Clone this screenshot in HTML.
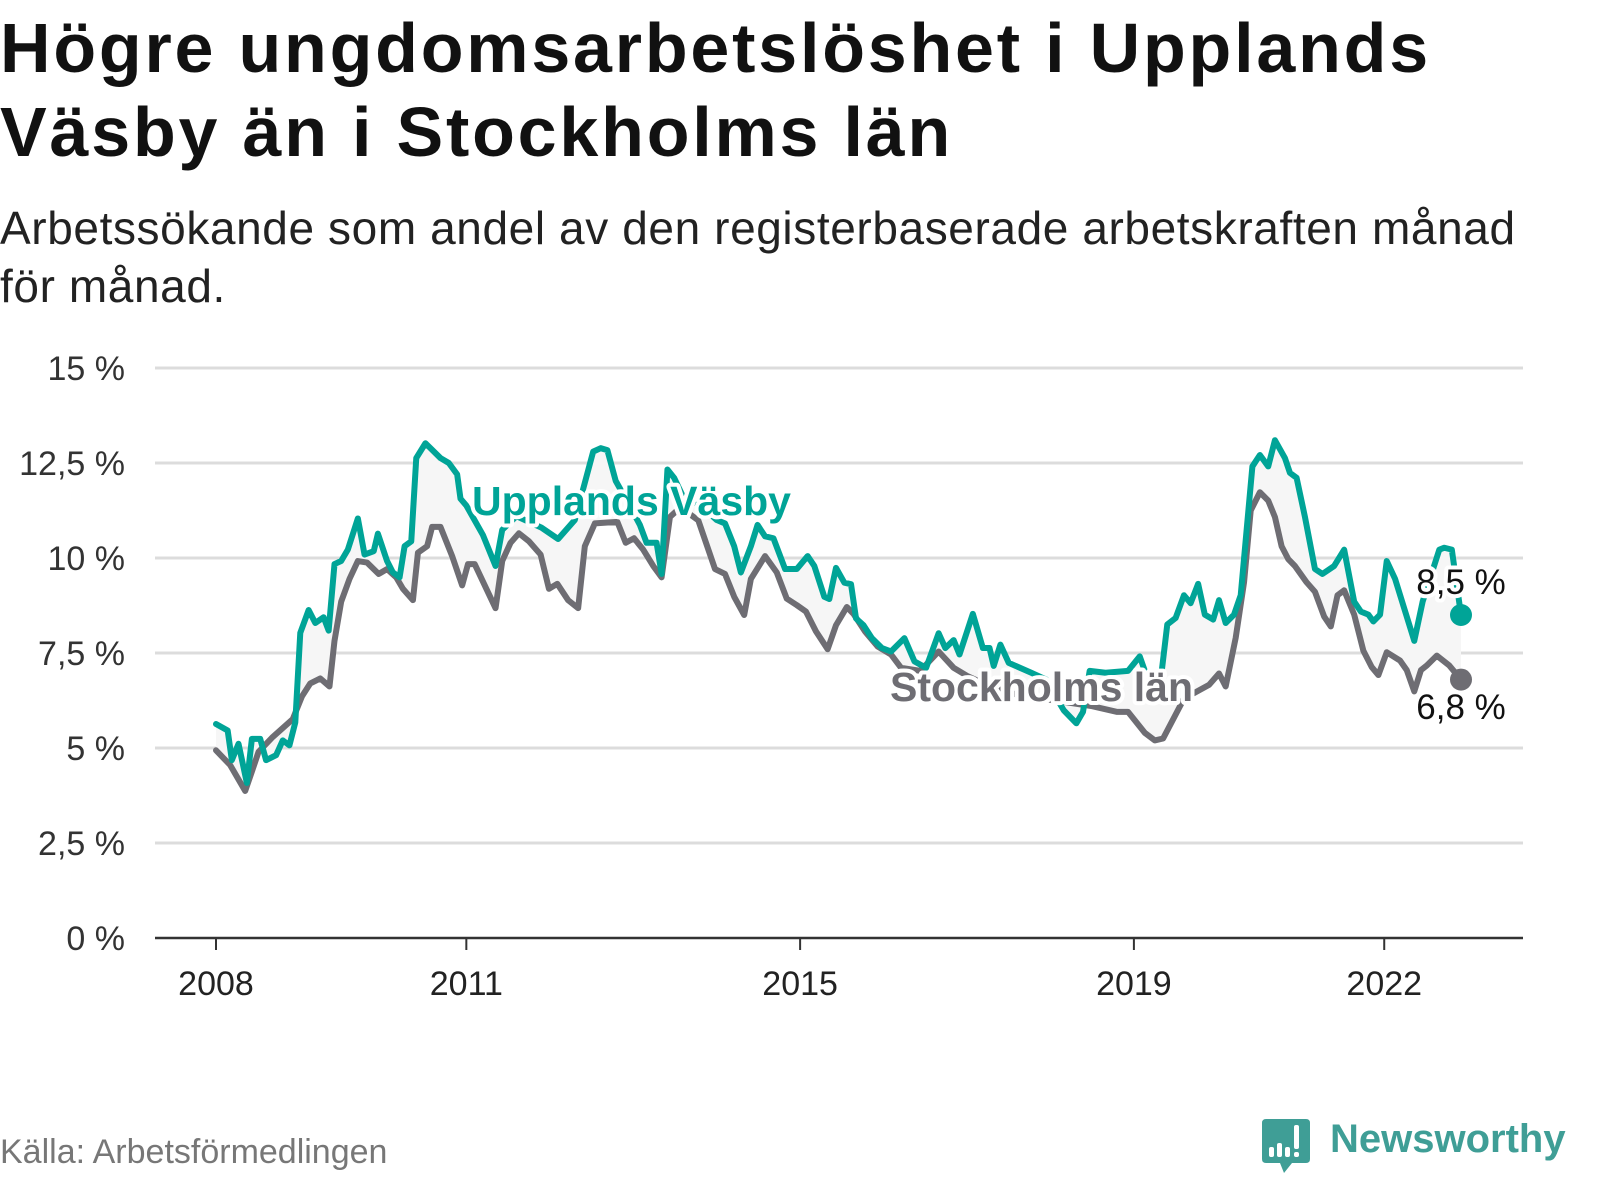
<!DOCTYPE html>
<html><head><meta charset="utf-8"><style>
html,body{margin:0;padding:0;background:#fff;}
body{width:1600px;height:1200px;overflow:hidden;position:relative;font-family:"Liberation Sans",sans-serif;}
.t{position:absolute;left:0;margin:0;color:#111;}
</style></head><body>
<h1 class="t" style="top:6px;font-size:70px;line-height:84px;font-weight:bold;letter-spacing:2.8px;">Högre ungdomsarbetslöshet i Upplands<br>Väsby än i Stockholms län</h1>
<p class="t" style="top:199px;font-size:46px;line-height:58px;color:#222;letter-spacing:0.6px;">Arbetssökande som andel av den registerbaserade arbetskraften månad<br>för månad.</p>
<svg id="chart" width="1600" height="1200" style="position:absolute;left:0;top:0" xmlns="http://www.w3.org/2000/svg"></svg>
<div style="position:absolute;left:0;top:1133px;font-size:34px;color:#777;">Källa: Arbetsförmedlingen</div>
<div style="position:absolute;left:1262px;top:1117px;width:338px;height:60px;">
<svg width="50" height="60" style="position:absolute;left:0;top:0"><path d="M4 2 H44 Q48 2 48 6 V42 Q48 46 44 46 H30 L22 56 L18 46 H4 Q0 46 0 42 V6 Q0 2 4 2Z" fill="#3f9e96"/><rect x="7" y="30" width="5" height="10" rx="2" fill="#fff"/><rect x="15" y="26" width="5" height="14" rx="2" fill="#fff"/><rect x="23" y="30" width="5" height="10" rx="2" fill="#fff"/><rect x="32" y="8" width="5" height="24" rx="2" fill="#fff"/><rect x="32" y="35" width="5" height="5" rx="2" fill="#fff"/></svg>
<span style="position:absolute;left:68px;top:0px;font-size:40px;font-weight:bold;color:#3f9e96;">Newsworthy</span>
</div>
<script>
const yTicks=[0,2.5,5,7.5,10,12.5,15];
const yTickLabels=["0 %","2,5 %","5 %","7,5 %","10 %","12,5 %","15 %"];
const xTicks=[2008,2011,2015,2019,2022];
const vasbyDates=[2008.00,2008.14,2008.19,2008.27,2008.37,2008.43,2008.53,2008.60,2008.72,2008.80,2008.88,2008.95,2009.01,2009.11,2009.19,2009.29,2009.35,2009.42,2009.50,2009.58,2009.70,2009.78,2009.89,2009.94,2010.05,2010.12,2010.20,2010.26,2010.34,2010.40,2010.51,2010.69,2010.79,2010.89,2010.93,2011.00,2011.20,2011.35,2011.43,2011.60,2011.90,2012.10,2012.30,2012.42,2012.52,2012.61,2012.69,2012.79,2012.90,2013.00,2013.08,2013.16,2013.28,2013.34,2013.41,2013.49,2013.60,2013.80,2014.00,2014.10,2014.21,2014.29,2014.41,2014.49,2014.58,2014.68,2014.82,2014.96,2015.09,2015.17,2015.29,2015.35,2015.43,2015.53,2015.61,2015.67,2015.76,2015.86,2015.98,2016.09,2016.25,2016.37,2016.51,2016.66,2016.74,2016.84,2016.91,2017.07,2017.19,2017.27,2017.32,2017.40,2017.50,2017.77,2017.95,2018.05,2018.16,2018.31,2018.39,2018.47,2018.66,2018.93,2019.07,2019.20,2019.30,2019.40,2019.50,2019.60,2019.68,2019.77,2019.85,2019.95,2020.02,2020.10,2020.20,2020.28,2020.42,2020.51,2020.61,2020.69,2020.81,2020.87,2020.95,2021.05,2021.17,2021.26,2021.40,2021.52,2021.64,2021.72,2021.81,2021.87,2021.95,2022.03,2022.13,2022.36,2022.46,2022.66,2022.72,2022.81,2022.92];
const vasbyValues=[5.63,5.46,4.68,5.11,4.08,5.24,5.24,4.68,4.81,5.20,5.07,5.67,8.03,8.63,8.29,8.44,8.09,9.84,9.92,10.22,11.04,10.09,10.18,10.64,9.92,9.62,9.49,10.31,10.44,12.63,13.02,12.63,12.50,12.20,11.56,11.38,10.6,9.79,10.74,11.1,10.8,10.5,11.0,11.98,12.80,12.89,12.84,12.03,11.6,11.2,10.87,10.40,10.40,9.58,12.33,12.11,11.6,11.4,11.0,10.91,10.31,9.62,10.31,10.87,10.57,10.52,9.71,9.71,10.05,9.79,8.98,8.92,9.74,9.35,9.31,8.41,8.23,7.89,7.63,7.54,7.89,7.28,7.11,8.02,7.63,7.84,7.46,8.53,7.63,7.63,7.16,7.72,7.24,6.98,6.8,6.4,5.99,5.65,5.95,7.03,6.98,7.03,7.41,6.6,6.4,8.25,8.42,9.02,8.81,9.32,8.51,8.38,8.89,8.29,8.51,9.02,12.41,12.71,12.41,13.10,12.63,12.24,12.11,11.08,9.71,9.58,9.79,10.22,8.85,8.59,8.51,8.33,8.51,9.92,9.45,7.82,8.85,10.22,10.27,10.22,8.5];
const lanDates=[2008.00,2008.17,2008.35,2008.43,2008.51,2008.68,2008.92,2009.03,2009.13,2009.25,2009.36,2009.42,2009.50,2009.60,2009.70,2009.81,2009.95,2010.05,2010.16,2010.24,2010.36,2010.42,2010.53,2010.59,2010.69,2010.83,2010.95,2011.02,2011.10,2011.24,2011.35,2011.43,2011.53,2011.63,2011.75,2011.89,2011.99,2012.09,2012.22,2012.34,2012.42,2012.54,2012.81,2012.91,2013.01,2013.12,2013.24,2013.34,2013.44,2013.55,2013.65,2013.78,2013.98,2014.10,2014.21,2014.33,2014.41,2014.58,2014.72,2014.84,2014.96,2015.07,2015.19,2015.33,2015.43,2015.56,2015.64,2015.78,2015.93,2016.09,2016.21,2016.44,2016.66,2016.84,2017.00,2017.30,2017.60,2017.90,2018.20,2018.50,2018.80,2018.93,2019.13,2019.25,2019.35,2019.60,2019.90,2020.02,2020.10,2020.22,2020.32,2020.40,2020.51,2020.61,2020.69,2020.77,2020.85,2020.93,2021.07,2021.17,2021.28,2021.36,2021.44,2021.52,2021.64,2021.75,2021.85,2021.93,2022.03,2022.19,2022.27,2022.36,2022.44,2022.51,2022.63,2022.78,2022.92];
const lanValues=[4.94,4.55,3.87,4.38,4.90,5.29,5.76,6.36,6.70,6.83,6.62,7.82,8.85,9.45,9.92,9.88,9.58,9.71,9.49,9.19,8.89,10.14,10.31,10.82,10.82,10.05,9.28,9.84,9.84,9.19,8.68,9.92,10.40,10.65,10.44,10.09,9.19,9.32,8.89,8.68,10.31,10.91,10.95,10.40,10.52,10.22,9.79,9.49,11.08,11.3,11.2,10.99,9.71,9.58,8.98,8.50,9.45,10.05,9.62,8.93,8.76,8.59,8.07,7.60,8.23,8.71,8.53,8.06,7.67,7.46,7.11,7.03,7.54,7.11,6.9,6.6,6.4,6.3,6.2,6.1,5.95,5.95,5.4,5.2,5.25,6.3,6.66,6.96,6.62,7.90,9.36,11.25,11.73,11.51,11.08,10.31,9.97,9.79,9.36,9.11,8.46,8.20,9.02,9.15,8.51,7.56,7.13,6.92,7.52,7.30,7.05,6.49,7.05,7.17,7.43,7.17,6.8];

const NS="http://www.w3.org/2000/svg";
const svg=document.getElementById('chart');
const X0=216,X1=1461,D0=2008,D1=2022.92;
function xs(d){return X0+(d-D0)*(X1-X0)/(D1-D0);}
function ys(v){return 938-v*38;}
function mk(tag,attrs){const e=document.createElementNS(NS,tag);for(const k in attrs)e.setAttribute(k,attrs[k]);svg.appendChild(e);return e;}

yTicks.forEach((t,i)=>{
  if(t>0){const g=mk('line',{x1:155,x2:1523,y1:ys(t),y2:ys(t),stroke:'#dcdcdc','stroke-width':3});
  
  }
  const l=mk('text',{x:125,y:ys(t)+12,'text-anchor':'end','font-size':34,fill:'#333','font-family':'Liberation Sans, sans-serif'});
  l.textContent=yTickLabels[i];
  
  
});
const ax=mk('line',{x1:155,x2:1523,y1:938,y2:938,stroke:'#333','stroke-width':2.5});


xTicks.forEach(t=>{
  const tk=mk('line',{x1:xs(t),x2:xs(t),y1:938,y2:950,stroke:'#333','stroke-width':2});
  
  
  const l=mk('text',{x:xs(t),y:995,'text-anchor':'middle','font-size':34,fill:'#222','font-family':'Liberation Sans, sans-serif'});
  l.textContent=String(t);
  
  
});
let fp=vasbyDates.map((d,i)=>xs(d)+','+ys(vasbyValues[i]));
for(let i=lanDates.length-1;i>=0;i--)fp.push(xs(lanDates[i])+','+ys(lanValues[i]));
const area=mk('polygon',{points:fp.join(' '),fill:'#f6f6f6'});


function line(ds,vs,col,name){
  const p=mk('polyline',{points:ds.map((d,i)=>xs(d)+','+ys(vs[i])).join(' '),fill:'none',stroke:col,'stroke-width':6,'stroke-linejoin':'round','stroke-linecap':'round'});
  
  
}
line(lanDates,lanValues,'#6e6d73','stockholms-lan-line');
line(vasbyDates,vasbyValues,'#00a497','upplands-vasby-line');
const d1=mk('circle',{cx:xs(vasbyDates[vasbyDates.length-1]),cy:ys(vasbyValues[vasbyValues.length-1]),r:11,fill:'#00a497'});


const d2=mk('circle',{cx:xs(lanDates[lanDates.length-1]),cy:ys(lanValues[lanValues.length-1]),r:11,fill:'#6e6d73'});


function label(x,y,txt,col,bold,name,anchor){
  const t=mk('text',{x:x,y:y,'font-size':bold?41:35,'font-weight':bold?'bold':'normal',fill:col,stroke:'#fff','stroke-width':8,'paint-order':'stroke','stroke-linejoin':'round','text-anchor':anchor||'start','font-family':'Liberation Sans, sans-serif'});
  t.textContent=txt;
  
  
}
label(472,515,'Upplands Väsby','#00a497',true,'vasby-series-label');
label(890,701,'Stockholms län','#6e6d73',true,'lan-series-label');
label(1461,594,'8,5 %','#111',false,'vasby-end-value','middle');
label(1461,719,'6,8 %','#111',false,'lan-end-value','middle');
</script>
</body></html>
